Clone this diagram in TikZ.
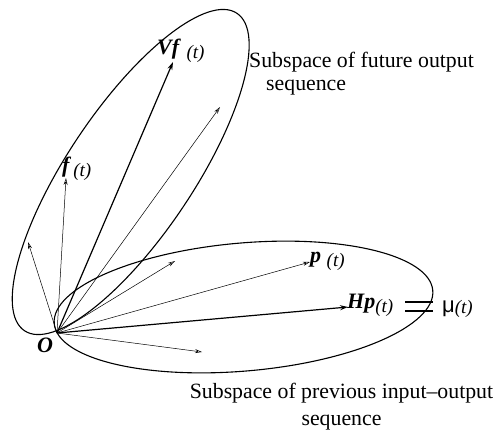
\documentclass[tikz,border=0pt]{standalone}
\usepackage{fontspec}
\setmainfont{Liberation Serif}
\newfontfamily\sansmu{Liberation Sans}
\usetikzlibrary{arrows.meta}
\newcommand\mylab[3]{\textbf{\textit{#1}}#2\raisebox{-4pt}{\fontsize{19}{19}\selectfont\textit{(#3)}}}
\begin{document}
\begin{tikzpicture}[x=1pt,y=1pt,
  ell/.style={line width=1.1pt},
  thinarr/.style={line width=0.5pt,-{Stealth[length=7pt,width=4pt,open]}},
  thickarr/.style={line width=1.2pt,-{Stealth[length=8pt,width=5pt]}},
  lbl/.style={inner sep=0pt,anchor=base west,font=\fontsize{22}{22}\selectfont},
  captxt/.style={inner sep=0pt,font=\fontsize{21.8}{27}\selectfont}]
\useasboundingbox (0,0) rectangle (502,429);
% ellipses
\draw[ell,rotate around={56.2:(130.7,257)}] (130.7,257) ellipse [x radius=191pt, y radius=63pt];
\draw[ell,rotate around={5:(243.5,122)}] (243.5,122) ellipse [x radius=190pt, y radius=64pt];
% origin and tips
\coordinate (O) at (57,96);
\coordinate (tvf) at (173,367);
\coordinate (tf) at (66,251);
\coordinate (tur) at (220,322);
\coordinate (tul) at (28,187);
\coordinate (tm) at (175,168);
\coordinate (tp) at (310,167);
\coordinate (thp) at (348,122);
\coordinate (tdr) at (202,77);
% arrows
\draw[thickarr] (O) -- (tvf);
\draw[thinarr] (O) -- (tf);
\draw[thinarr] (O) -- (tur);
\draw[thinarr] (O) -- (tul);
\draw[thinarr] (O) -- (tm);
\draw[thinarr] (O) -- (tp);
\draw[thickarr] (O) -- (thp);
\draw[thinarr] (O) -- (tdr);
% labels
\node[lbl] (vf) at (157,374) {\mylab{Vf}{ }{t}};
\node[lbl] (f) at (62,257) {\mylab{f}{\hspace{2pt}}{t}};
\node[lbl] (p) at (310,167) {\mylab{p}{ }{t}};
\node[lbl] (hp) at (347,121) {\mylab{Hp}{}{t}};
\node[lbl] (mu) at (442,117) {{\sansmu μ}\raisebox{-1pt}{\fontsize{19}{19}\selectfont\textit{(t)}}};
\draw[line width=1.1pt] (405,127) -- (433,127);
\draw[line width=1.1pt] (405,118) -- (433,118);
\node[lbl] (o) at (37,77) {\textbf{\textit{O}}};
% captions
\node[captxt,anchor=base west,align=left] (c1) at (249,338) {Subspace of future output\\[-4pt]\hspace*{17pt}sequence};
\node[captxt,anchor=base,align=center] (c2) at (341.5,4) {Subspace of previous input\textendash output\\sequence};
\end{tikzpicture}
\end{document}
